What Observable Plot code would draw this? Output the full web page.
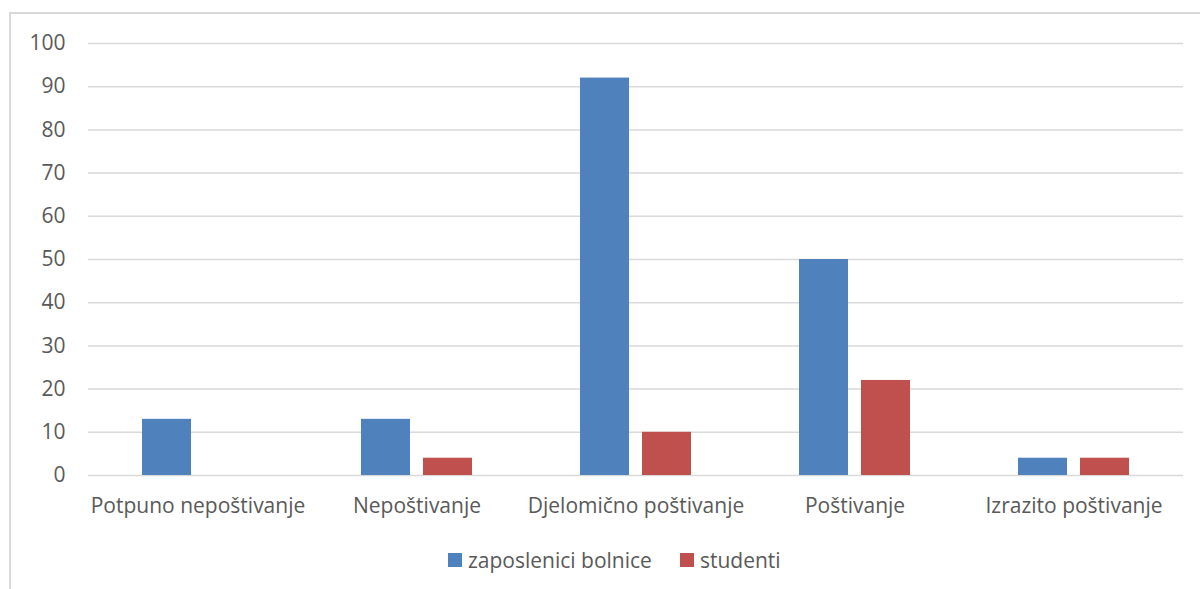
<!DOCTYPE html>
<html>
<head>
<meta charset="utf-8">
<script src="https://cdn.jsdelivr.net/npm/d3@7"></script>
<script src="https://cdn.jsdelivr.net/npm/@observablehq/plot@0.6"></script>
<style>
  html, body { margin: 0; padding: 0; background: #fff; width: 1200px; height: 589px; overflow: hidden; }
  #frame { position: absolute; left: 9px; top: 12px; width: 1200px; height: 600px;
           border-top: 2px solid #d9d9d9; border-left: 2px solid #d9d9d9; box-sizing: border-box; }
  #chart { position: absolute; left: 0; top: 0; }
  #legend { position: absolute; left: 448px; top: 546px; display: flex; align-items: center;
            font-family: "Open Sans", Lato, sans-serif; font-size: 21px; color: #595959; }
  .item { display: flex; align-items: center; margin-right: 28px; }
  .sw { width: 14px; height: 14px; margin-right: 6px; }
</style>
</head>
<body>
<div id="frame"></div>
<div id="chart"></div>
<div id="legend"></div>
<script>
const categories = ["Potpuno nepoštivanje", "Nepoštivanje", "Djelomično poštivanje", "Poštivanje", "Izrazito poštivanje"];
const series = ["zaposlenici bolnice", "studenti"];
const zaposlenici = [13, 13, 92, 50, 4];
const studenti = [0, 4, 10, 22, 4];
const colors = ["#4F81BD", "#C0504D"];
const yTicks = [0, 10, 20, 30, 40, 50, 60, 70, 80, 90, 100];

const data = [];
categories.forEach((c, i) => {
  data.push({category: c, series: series[0], value: zaposlenici[i]});
  data.push({category: c, series: series[1], value: studenti[i]});
});

const chart = Plot.plot({
  width: 1200,
  height: 530,
  marginLeft: 86,
  marginRight: 15,
  marginTop: 43,
  marginBottom: 55,
  style: {fontFamily: "'Open Sans', Lato, sans-serif", fontSize: "21px", color: "#595959", background: "transparent"},
  fx: {domain: categories, padding: 0, label: null},
  x: {domain: series, paddingInner: 0.21, paddingOuter: 0.87, axis: null},
  y: {domain: [0, 100], label: null},
  color: {domain: series, range: colors},
  marks: [
    Plot.ruleY(yTicks, {stroke: "#d9d9d9", strokeWidth: 1.5}),
    Plot.barY(data, {fx: "category", x: "series", y: "value", fill: "series"}),
    Plot.axisY(yTicks, {tickSize: 0, tickPadding: 23, label: null}),
    Plot.axisFx({anchor: "bottom", tickSize: 0, tickPadding: 23, label: null})
  ]
});
document.getElementById("chart").appendChild(chart);

const legend = document.getElementById("legend");
series.forEach((s, i) => {
  const item = document.createElement("div");
  item.className = "item";
  const sw = document.createElement("div");
  sw.className = "sw";
  sw.style.background = colors[i];
  const t = document.createElement("span");
  t.textContent = s;
  item.appendChild(sw);
  item.appendChild(t);
  legend.appendChild(item);
});
</script>
</body>
</html>
